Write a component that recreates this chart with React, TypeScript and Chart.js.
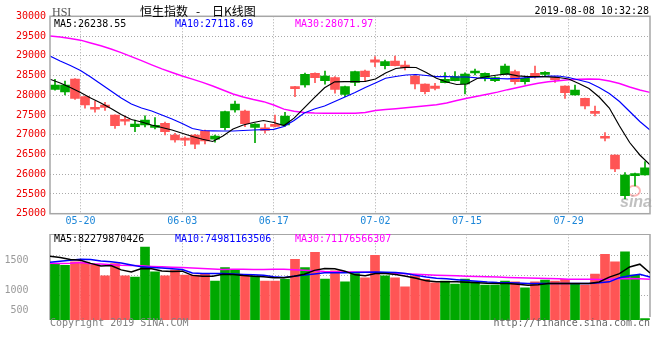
import React, { useEffect, useRef } from 'react';
import { Chart, registerables } from 'chart.js';

Chart.register(...registerables);

// ---------------- data ----------------
const dates = [
  '05-15', '05-16', '05-17', '05-20', '05-21', '05-22', '05-23', '05-24', '05-27', '05-28',
  '05-29', '05-30', '05-31', '06-03', '06-04', '06-05', '06-06', '06-10', '06-11', '06-12',
  '06-13', '06-14', '06-17', '06-18', '06-19', '06-20', '06-21', '06-24', '06-25', '06-26',
  '06-27', '06-28', '07-02', '07-03', '07-04', '07-05', '07-08', '07-09', '07-10', '07-11',
  '07-12', '07-15', '07-16', '07-17', '07-18', '07-19', '07-22', '07-23', '07-24', '07-25',
  '07-26', '07-29', '07-30', '07-31', '08-01', '08-02', '08-05', '08-06', '08-07', '08-08',
];

const open = [
  28146, 28083, 28412, 27964, 27662, 27753, 27500, 27355, 27204, 27247,
  27188, 27290, 26993, 26870, 26993, 27095, 26885, 27178, 27627, 27601,
  27183, 27178, 27265, 27247, 28217, 28260, 28556, 28369, 28445, 28024,
  28328, 28615, 28895, 28749, 28868, 28766, 28488, 28285, 28235, 28318,
  28369, 28285, 28564, 28430, 28369, 28539, 28597, 28344, 28556, 28531,
  28430, 28235, 28006, 27923, 27584, 26950, 26487, 25456, 25963, 25980,
];
const high = [
  28404, 28361, 28420, 27970, 27855, 27822, 27505, 27475, 27373, 27482,
  27432, 27323, 27037, 26950, 27011, 27120, 26993, 27601, 27855, 27626,
  27285, 27272, 27500, 27569, 28225, 28560, 28565, 28615, 28470, 28235,
  28615, 28640, 28977, 28893, 28995, 28868, 28531, 28290, 28303, 28572,
  28597, 28565, 28666, 28565, 28470, 28792, 28640, 28470, 28741, 28597,
  28470, 28240, 28260, 27930, 27728, 27052, 26490, 26039, 26030, 26317,
];
const low = [
  28130, 28007, 27893, 27670, 27569, 27619, 27163, 27247, 27077, 27196,
  27145, 26993, 26809, 26722, 26647, 26765, 26809, 27120, 27569, 27204,
  26798, 27037, 27196, 27209, 27964, 28202, 28318, 28278, 28050, 27964,
  28242, 28344, 28723, 28665, 28740, 28640, 28159, 28032, 28133, 28310,
  28361, 28032, 28513, 28361, 28344, 28530, 28278, 28278, 28430, 28470,
  28328, 27923, 28000, 27652, 27475, 26841, 26064, 25372, 25702, 25975,
];
const close = [
  28260, 28260, 27918, 27753, 27645, 27695, 27229, 27342, 27272, 27373,
  27239, 27077, 26866, 26862, 26758, 26841, 26968, 27584, 27779, 27280,
  27272, 27112, 27209, 27475, 28166, 28531, 28445, 28488, 28151, 28217,
  28597, 28470, 28838, 28850, 28749, 28698, 28285, 28090, 28176, 28404,
  28470, 28539, 28615, 28556, 28445, 28741, 28344, 28430, 28470, 28556,
  28394, 28065, 28133, 27728, 27543, 26910, 26132, 25980, 26013, 26165,
];

const ma5 = [
  28407, 28311, 28197, 28070, 27931, 27804, 27665, 27513, 27386, 27323,
  27247, 27183, 27120, 27037, 26955, 26885, 26829, 26968, 27145, 27247,
  27310, 27361, 27310, 27234, 27420, 27680, 27940, 28190, 28340, 28344,
  28344, 28354, 28412, 28564, 28678, 28708, 28703, 28577, 28430, 28336,
  28273, 28285, 28425, 28475, 28513, 28539, 28493, 28470, 28470, 28468,
  28450, 28412, 28298, 28171, 27956, 27677, 27221, 26803, 26487, 26239,
];
const ma10 = [
  28995, 28868, 28754, 28627, 28463, 28285, 28108, 27931, 27779, 27677,
  27601, 27500, 27399, 27285, 27158, 27107, 27100, 27095, 27095, 27107,
  27120, 27128, 27138, 27209, 27361, 27551, 27652, 27728, 27842, 27956,
  28070, 28197, 28311, 28430, 28475, 28513, 28526, 28501, 28470, 28475,
  28463, 28463, 28442, 28430, 28425, 28417, 28430, 28450, 28463, 28483,
  28488, 28450, 28387, 28323, 28197, 28045, 27842, 27589, 27335, 27119,
];
const ma30 = [
  29501, 29476, 29438, 29395, 29324, 29253, 29172, 29078, 28977, 28875,
  28772, 28668, 28577, 28488, 28407, 28328, 28235, 28133, 28032, 27956,
  27893, 27837, 27753, 27647, 27594, 27563, 27551, 27546, 27543, 27543,
  27546, 27563, 27614, 27639, 27660, 27682, 27708, 27733, 27761, 27804,
  27867, 27923, 27976, 28027, 28078, 28141, 28197, 28255, 28303, 28341,
  28366, 28392, 28407, 28412, 28407, 28361, 28298, 28209, 28133, 28072,
];

const volume = [
  982, 959, 1017, 1012, 968, 773, 989, 773, 750, 1278,
  842, 773, 872, 785, 785, 802, 680, 919, 884, 773,
  773, 680, 680, 715, 1064, 919, 1186, 715, 860, 668,
  814, 738, 1134, 773, 738, 581, 773, 710, 651, 680,
  628, 715, 668, 610, 610, 680, 668, 563, 668, 698,
  680, 710, 640, 610, 802, 1151, 1017, 1191, 785, 25,
];
const volMa5 = [
  1116, 1093, 1059, 1045, 991, 944, 952, 877, 841, 902,
  895, 856, 848, 855, 781, 764, 767, 802, 797, 780,
  767, 759, 738, 738, 767, 802, 869, 903, 898, 855,
  790, 776, 814, 814, 797, 767, 732, 685, 668, 668,
  668, 661, 652, 644, 640, 640, 626, 609, 619, 637,
  640, 640, 640, 640, 666, 750, 811, 928, 977, 823,
];
const volMa10 = [
  1012, 1029, 1046, 1064, 1057, 1034, 1018, 999, 964, 930,
  921, 912, 896, 882, 823, 814, 814, 813, 804, 797,
  790, 783, 755, 745, 767, 787, 806, 825, 825, 828,
  832, 837, 842, 837, 830, 814, 781, 752, 732, 720,
  706, 691, 678, 664, 656, 652, 647, 640, 640, 640,
  640, 640, 640, 640, 651, 668, 741, 776, 802, 750,
];
const volMa30 = [
  994, 991, 994, 1005, 985, 980, 968, 959, 954, 949,
  938, 930, 924, 919, 910, 900, 891, 884, 888, 889,
  886, 884, 888, 889, 881, 872, 860, 851, 846, 842,
  839, 835, 832, 827, 818, 809, 800, 792, 785, 778,
  773, 766, 760, 755, 752, 746, 741, 736, 731, 726,
  720, 715, 713, 712, 710, 715, 722, 727, 722, 712,
];

const xTickDates = ['05-20', '06-03', '06-17', '07-02', '07-15', '07-29'];
const priceMin = 25000;
const priceMax = 30000;
const priceStep = 500;
const volMin = 0;
const volMax = 1500;
const volTickLabels = ['1500', '1000', '500'];
const volTickValues = [1046, 511, 169];
const volGridValues = [1134, 785, 431];

const priceLegend = ['MA5:26238.55', 'MA10:27118.69', 'MA30:28071.97'];
const volLegend = ['MA5:82279870426', 'MA10:74981163506', 'MA30:71176566307'];
const titleParts = ['恒生指数', '-', '日K线图'];
const symbolText = 'HSI';
const timeText = '2019-08-08 10:32:28';
const copyrightText = 'Copyright 2019 SINA.COM';
const urlText = 'http://finance.sina.com.cn';

// ---------------- style ----------------
const UP = '#00a800';
const DOWN = '#ff5555';
const MA_COLORS = ['#000000', '#0000ff', '#ff00ff'];
const GRID = '#a9a9a9';
const BOX = '#a6a6a6';
const MONO = "'DejaVu Sans Mono', 'Liberation Mono', monospace";

const n = dates.length;
// sina spreads the date grid and MA points over (n-1) steps across the plot
const maX = (i: number) => (i * n) / (n - 1) - 0.5;
const candleColors = close.map((c, i) => (c >= open[i] ? UP : DOWN));

const lineDs = (vals: number[], color: string, width: number, axis?: string) => ({
  type: 'line' as const,
  data: vals.map((v, i) => ({ x: maX(i), y: v })),
  borderColor: color,
  borderWidth: width,
  pointRadius: 0,
  tension: 0,
  fill: false,
  order: 0,
  ...(axis ? { yAxisID: axis } : {}),
});

const mainDecor = {
  id: 'mainDecor',
  beforeDatasetsDraw(chart: any) {
    const { ctx, chartArea: a } = chart;
    ctx.save();
    ctx.strokeStyle = 'rgba(255,120,120,0.55)';
    ctx.lineWidth = 2;
    ctx.beginPath();
    ctx.ellipse(a.right - 16, a.bottom - 23, 6, 5, 0, 0, Math.PI * 2);
    ctx.stroke();
    ctx.font = "italic bold 16px 'Liberation Sans', sans-serif";
    ctx.fillStyle = 'rgba(150,150,150,0.6)';
    ctx.textAlign = 'right';
    ctx.textBaseline = 'alphabetic';
    ctx.fillText('sina', a.right + 2, a.bottom - 7);
    ctx.restore();
  },
  afterDraw(chart: any) {
    const { ctx, chartArea: a } = chart;
    ctx.save();
    ctx.strokeStyle = BOX;
    ctx.lineWidth = 1.5;
    ctx.strokeRect(a.left, a.top, a.right - a.left, a.bottom - a.top);

    ctx.textBaseline = 'alphabetic';
    ctx.textAlign = 'left';
    ctx.font = "12px 'Liberation Serif', serif";
    ctx.fillStyle = '#555';
    ctx.fillText(symbolText, a.left + 2, 16);

    ctx.textBaseline = 'middle';
    ctx.font = "12px 'Noto Sans CJK SC', sans-serif";
    ctx.fillStyle = '#000';
    ctx.fillText(titleParts[0], 140, 11);
    ctx.fillText(titleParts[1], 196, 11);
    ctx.fillText(titleParts[2], 212, 11);

    ctx.font = `10px ${MONO}`;
    ctx.textAlign = 'right';
    ctx.fillText(timeText, a.right - 1, 11.5);

    ctx.textAlign = 'left';
    const lx = [a.left + 4, a.left + 125, a.left + 245];
    priceLegend.forEach((t, k) => {
      ctx.fillStyle = MA_COLORS[k];
      ctx.fillText(t, lx[k], a.top + 8);
    });
    ctx.restore();
  },
};

const volDecor = {
  id: 'volDecor',
  beforeDatasetsDraw(chart: any) {
    const { ctx, chartArea: a } = chart;
    ctx.save();
    ctx.strokeStyle = BOX;
    ctx.lineWidth = 1.5;
    ctx.beginPath();
    ctx.moveTo(a.left, a.bottom);
    ctx.lineTo(a.left, a.top);
    ctx.lineTo(a.right, a.top);
    ctx.lineTo(a.right, a.bottom - 3);
    ctx.stroke();
    ctx.restore();
  },
  afterDraw(chart: any) {
    const { ctx, chartArea: a } = chart;
    ctx.save();
    ctx.textBaseline = 'middle';
    ctx.textAlign = 'left';
    ctx.font = `10px ${MONO}`;
    const lx = [a.left + 4, a.left + 125, a.left + 245];
    volLegend.forEach((t, k) => {
      ctx.fillStyle = MA_COLORS[k];
      ctx.fillText(t, lx[k], a.top + 5.5);
    });
    ctx.fillStyle = '#808080';
    ctx.fillText(copyrightText, a.left, a.bottom + 3.8);
    ctx.textAlign = 'right';
    ctx.fillStyle = '#666';
    ctx.fillText(urlText, a.right, a.bottom + 3.8);
    ctx.restore();
  },
};

const xScale = (showLabels: boolean, height: number) => ({
  type: 'linear' as const,
  min: -0.5,
  max: n - 0.5,
  offset: false,
  afterBuildTicks: (s: any) => {
    s.ticks = xTickDates.map((d) => ({ value: maX(dates.indexOf(d)) }));
  },
  afterFit: (s: any) => {
    s.height = height;
    s.paddingLeft = 0;
    s.paddingRight = 0;
  },
  grid: { color: GRID, lineWidth: 1, drawTicks: false, offset: false },
  border: { display: false, dash: [1, 2] },
  ticks: {
    display: showLabels,
    autoSkip: false,
    maxRotation: 0,
    padding: 2,
    color: '#1c86d8',
    font: { family: MONO, size: 10 },
    callback: (_v: any, i: number) => xTickDates[i],
  },
});

const fixVertical = (width: number) => (s: any) => {
  s.width = width;
  s.paddingTop = 0;
  s.paddingBottom = 0;
};

export default function App() {
  const mainRef = useRef<HTMLCanvasElement>(null);
  const volRef = useRef<HTMLCanvasElement>(null);

  useEffect(() => {
    document.body.style.margin = '0';
    const main = new Chart(mainRef.current as HTMLCanvasElement, {
      type: 'bar',
      data: {
        datasets: [
          lineDs(ma5, MA_COLORS[0], 1.2),
          lineDs(ma10, MA_COLORS[1], 1.2),
          lineDs(ma30, MA_COLORS[2], 1.4),
          {
            type: 'bar',
            data: open.map((o, i) => ({ x: i, y: [o, close[i]] })),
            backgroundColor: candleColors,
            borderWidth: 0,
            barThickness: 9,
            minBarLength: 2,
            grouped: false,
            order: 1,
          } as any,
          {
            type: 'bar',
            data: low.map((l, i) => ({ x: i, y: [l, high[i]] })),
            backgroundColor: candleColors,
            borderWidth: 0,
            barThickness: 1,
            grouped: false,
            order: 2,
          } as any,
        ],
      },
      options: {
        responsive: false,
        animation: false,
        events: [],
        layout: { padding: { top: 16.3, right: 10, bottom: 0, left: 0 } },
        plugins: { legend: { display: false }, tooltip: { enabled: false } },
        scales: {
          x: xScale(true, 20.3) as any,
          y: {
            type: 'linear',
            min: priceMin,
            max: priceMax,
            afterFit: fixVertical(50),
            grid: { color: GRID, drawTicks: false },
            border: { display: false, dash: [1, 2] },
            ticks: {
              stepSize: priceStep,
              padding: 4,
              color: '#ee0000',
              font: { family: MONO, size: 10 },
              callback: (v: any) => String(v),
            },
          },
        },
      },
      plugins: [mainDecor],
    });

    const vol = new Chart(volRef.current as HTMLCanvasElement, {
      type: 'bar',
      data: {
        datasets: [
          lineDs(volMa5, MA_COLORS[0], 1.5, 'yv'),
          lineDs(volMa10, MA_COLORS[1], 1.5, 'yv'),
          lineDs(volMa30, MA_COLORS[2], 1.5, 'yv'),
          {
            type: 'bar',
            data: volume.map((v, i) => ({ x: i, y: v })),
            backgroundColor: candleColors,
            borderWidth: 0,
            barThickness: 9,
            grouped: false,
            yAxisID: 'yv',
            order: 1,
          } as any,
        ],
      },
      options: {
        responsive: false,
        animation: false,
        events: [],
        layout: { padding: { top: 0.3, right: 10, bottom: 40, left: 0 } },
        plugins: { legend: { display: false }, tooltip: { enabled: false } },
        scales: {
          x: xScale(false, 0) as any,
          yv: {
            type: 'linear',
            position: 'left',
            min: volMin,
            max: volMax,
            afterBuildTicks: (s: any) => {
              s.ticks = volTickValues.map((v) => ({ value: v }));
            },
            afterFit: fixVertical(50),
            grid: { display: false, drawTicks: false },
            border: { display: false },
            ticks: {
              padding: 21.5,
              color: '#999',
              font: { family: MONO, size: 10 },
              callback: (_v: any, i: number) => volTickLabels[i],
            },
          },
          yg: {
            type: 'linear',
            position: 'left',
            min: volMin,
            max: volMax,
            afterBuildTicks: (s: any) => {
              s.ticks = volGridValues.map((v) => ({ value: v }));
            },
            afterFit: fixVertical(0),
            grid: { color: GRID, drawTicks: false },
            border: { display: false, dash: [1, 2] },
            ticks: { display: false },
          },
        },
      },
      plugins: [volDecor],
    });

    return () => {
      main.destroy();
      vol.destroy();
    };
  }, []);

  return (
    <div style={{ position: 'relative', width: 660, height: 360, background: '#fff' }}>
      <canvas
        ref={mainRef}
        width={660}
        height={234}
        style={{ position: 'absolute', left: 0, top: 0, display: 'block' }}
      />
      <canvas
        ref={volRef}
        width={660}
        height={126}
        style={{ position: 'absolute', left: 0, top: 234, display: 'block' }}
      />
    </div>
  );
}
